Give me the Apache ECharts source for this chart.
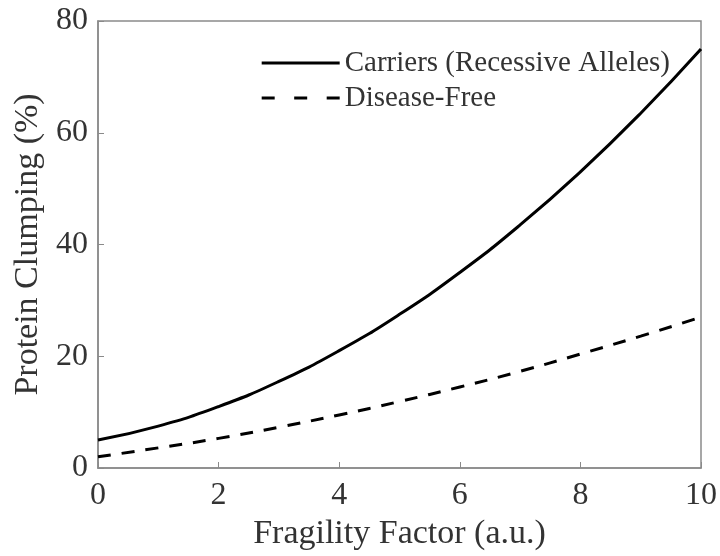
<!DOCTYPE html>
<html>
<head>
<meta charset="utf-8">
<script src="https://cdn.jsdelivr.net/npm/echarts@6/dist/echarts.min.js"></script>
<style>html,body{margin:0;padding:0;background:#fff}#c{width:720px;height:556px}</style>
</head>
<body>
<div id="c"></div>
<script>
const xValues = [0, 1, 2, 3, 4, 5, 6, 7, 8, 9, 10];
const carriers = [5, 7.5, 11, 15.5, 21, 27.5, 35, 43.5, 53, 63.5, 75];
const diseaseFree = [2, 3.6, 5.3, 7.3, 9.5, 11.9, 14.5, 17.3, 20.4, 23.6, 27];
const seriesNames = ['Carriers (Recessive Alleles)', 'Disease-Free'];
const xTicks = [0, 2, 4, 6, 8, 10];
const yTicks = [0, 20, 40, 60, 80];

const font = 'Liberation Serif, Times New Roman, serif';
const chart = echarts.init(document.getElementById('c'), null, {renderer: 'canvas'});
chart.setOption({
  animation: false,
  backgroundColor: '#fff',
  grid: {left: 98, right: 18, top: 21, bottom: 87, show: true, borderColor: '#8a8a8a', borderWidth: 1.5, backgroundColor: 'transparent'},
  legend: {
    right: 45, top: 43, orient: 'vertical', itemGap: 5,
    itemWidth: 78, itemHeight: 14,
    itemStyle: {opacity: 0},
    lineStyle: {width: 3},
    textStyle: {fontFamily: font, fontSize: 29, lineHeight: 30, color: '#333'},
    data: [
      {name: seriesNames[0]},
      {name: seriesNames[1], lineStyle: {width: 3, type: [13, 19.5]}}
    ]
  },
  xAxis: {
    type: 'value', min: xTicks[0], max: xTicks[xTicks.length-1], interval: 2,
    name: 'Fragility Factor (a.u.)', nameLocation: 'middle', nameGap: 49,
    nameTextStyle: {fontFamily: font, fontSize: 34, color: '#333'},
    axisLine: {show: true, lineStyle: {color: '#8a8a8a', width: 1.5}},
    axisTick: {show: true, inside: true, length: 6, lineStyle: {color: '#8a8a8a'}},
    axisLabel: {fontFamily: font, fontSize: 32, color: '#333', margin: 12},
    splitLine: {show: false}
  },
  yAxis: {
    type: 'value', min: yTicks[0], max: yTicks[yTicks.length-1], interval: 20,
    name: 'Protein Clumping (%)', nameLocation: 'middle', nameGap: 51,
    nameTextStyle: {fontFamily: font, fontSize: 34, color: '#333'},
    axisLine: {show: true, lineStyle: {color: '#8a8a8a', width: 1.5}},
    axisTick: {show: true, inside: true, length: 6, lineStyle: {color: '#8a8a8a'}},
    axisLabel: {fontFamily: font, fontSize: 32, color: '#333', margin: 10},
    splitLine: {show: false}
  },
  series: [
    {name: seriesNames[0], type: 'line', smooth: true, symbol: 'none',
     data: xValues.map((x, i) => [x, carriers[i]]),
     lineStyle: {color: '#000', width: 3}, itemStyle: {color: '#000'}},
    {name: seriesNames[1], type: 'line', smooth: true, symbol: 'none',
     data: xValues.map((x, i) => [x, diseaseFree[i]]),
     lineStyle: {color: '#000', width: 3, type: [13, 11]}, itemStyle: {color: '#000'}}
  ]
});
</script>
</body>
</html>
